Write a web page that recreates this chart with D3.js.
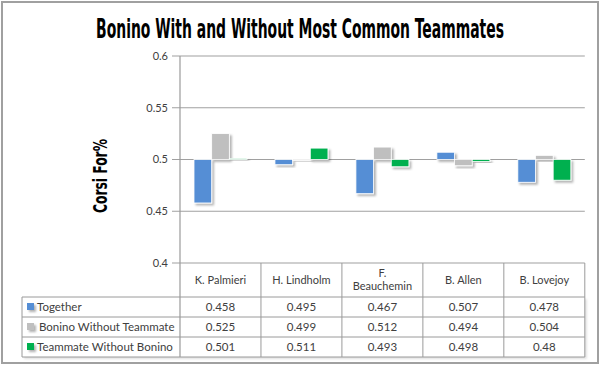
<!DOCTYPE html>
<html>
<head>
<meta charset="utf-8">
<script src="https://cdn.jsdelivr.net/npm/d3@7"></script>
<style>
  body { margin: 0; background: #fff; }
  text { font-family: Lato, "Liberation Sans", sans-serif; fill: #404040; }
  .cond { font-family: "Liberation Sans Narrow", "DejaVu Sans Condensed", sans-serif; font-weight: bold; fill: #000; }
</style>
</head>
<body>
<div id="body"></div>
<script>
var categories = ["K. Palmieri", "H. Lindholm", "F. Beauchemin", "B. Allen", "B. Lovejoy"];
var seriesNames = ["Together", "Bonino Without Teammate", "Teammate Without Bonino"];
var together = [0.458, 0.495, 0.467, 0.507, 0.478];
var withoutTeammate = [0.525, 0.499, 0.512, 0.494, 0.504];
var teammateWithout = [0.501, 0.511, 0.493, 0.498, 0.48];
var valueLabels = [
  ["0.458", "0.495", "0.467", "0.507", "0.478"],
  ["0.525", "0.499", "0.512", "0.494", "0.504"],
  ["0.501", "0.511", "0.493", "0.498", "0.48"]
];
var yTicks = [0.4, 0.45, 0.5, 0.55, 0.6];
var colors = ["#558ed5", "#bfbfbf", "#00b050"];

var series = [together, withoutTeammate, teammateWithout];
var width = 600, height = 366;
var plotLeft = 180, plotRight = 584.8, plotTop = 56, plotBottom = 263;
var tableLeft = 22, rowH = 20, headerBottom = 297;

var svg = d3.select("#body")
  .append("svg")
  .attr("width", width)
  .attr("height", height);

var defs = svg.append("defs");
function addShadow(id, opacity) {
  defs.append("filter")
    .attr("id", id)
    .attr("x", "-50%").attr("y", "-50%")
    .attr("width", "200%").attr("height", "200%")
    .append("feDropShadow")
    .attr("dx", 2).attr("dy", 2)
    .attr("stdDeviation", 1)
    .attr("flood-color", "#000")
    .attr("flood-opacity", opacity);
}
addShadow("shadow", 0.3);
addShadow("tshadow", 0.12);

// outer frame
svg.append("rect")
  .attr("x", 2).attr("y", 2)
  .attr("width", 596).attr("height", 361)
  .attr("fill", "none")
  .attr("stroke", "#a0a0a0")
  .attr("stroke-width", 2);

// squeeze condensed text to the width seen in the picture
function fitText(sel, w) {
  var natural = sel.node().getComputedTextLength();
  var base = sel.attr("transform") || "";
  sel.attr("transform", base + " scale(" + (w / natural) + ",1)");
}

var title = svg.append("text")
  .attr("class", "cond")
  .attr("text-anchor", "middle")
  .attr("font-size", 27)
  .attr("transform", "translate(300,38)")
  .text("Bonino With and Without Most Common Teammates");
fitText(title, 408);

var yLabel = svg.append("text")
  .attr("class", "cond")
  .attr("transform", "translate(107,176) rotate(-90)")
  .attr("text-anchor", "middle")
  .attr("font-size", 20)
  .text("Corsi For%");
fitText(yLabel, 74);

var x = d3.scaleBand()
  .domain(categories)
  .range([plotLeft, plotRight]);

var x1 = d3.scaleBand()
  .domain(d3.range(series.length))
  .range([14, 67]);

var y = d3.scaleLinear()
  .domain([0.4, 0.6])
  .range([plotBottom, plotTop]);

// gridlines and ticks
var grid = svg.append("g");
grid.selectAll("line")
  .data(yTicks)
  .enter()
  .append("line")
  .attr("x1", plotLeft - 8)
  .attr("x2", plotRight)
  .attr("y1", function(d) { return y(d); })
  .attr("y2", function(d) { return y(d); })
  .attr("stroke", "#a0a0a0")
  .attr("stroke-width", 1.2);

grid.selectAll("text")
  .data(yTicks)
  .enter()
  .append("text")
  .attr("x", plotLeft - 12)
  .attr("y", function(d) { return y(d); })
  .attr("dy", "0.35em")
  .attr("text-anchor", "end")
  .attr("font-size", 11)
  .text(function(d) { return d3.format("")(d); });

// bars from the 0.5 crossing
var groups = svg.append("g")
  .selectAll("g")
  .data(series)
  .enter()
  .append("g")
  .attr("fill", function(d, i) { return colors[i]; });

groups.selectAll("rect")
  .data(function(d, i) { return d.map(function(v, j) { return { s: i, c: categories[j], v: v }; }); })
  .enter()
  .append("rect")
  .attr("x", function(d) { return x(d.c) + x1(d.s); })
  .attr("width", x1.bandwidth())
  .attr("y", function(d) { return Math.min(y(d.v), y(0.5)); })
  .attr("height", function(d) { return Math.max(Math.abs(y(d.v) - y(0.5)), 1); })
  .attr("stroke", "#fff")
  .attr("stroke-width", 0.8)
  .attr("filter", "url(#shadow)");

// data table
var table = svg.append("g");
var colEdges = categories.map(function(c) { return x(c); }).concat([plotRight]);

table.append("rect")
  .attr("x", tableLeft)
  .attr("y", headerBottom)
  .attr("width", plotRight - tableLeft)
  .attr("height", rowH * 3)
  .attr("fill", "#fff")
  .attr("filter", "url(#tshadow)");

table.selectAll("line.h")
  .data(d3.range(4))
  .enter()
  .append("line")
  .attr("x1", tableLeft)
  .attr("x2", plotRight)
  .attr("y1", function(d) { return headerBottom + d * rowH; })
  .attr("y2", function(d) { return headerBottom + d * rowH; })
  .attr("stroke", "#9a9a9a");

table.selectAll("line.v")
  .data(colEdges)
  .enter()
  .append("line")
  .attr("x1", function(d) { return d; })
  .attr("x2", function(d) { return d; })
  .attr("y1", function(d, i) { return i == 0 ? plotTop : plotBottom; })
  .attr("y2", headerBottom + rowH * 3)
  .attr("stroke", "#9a9a9a")
  .attr("stroke-width", function(d, i) { return i == 0 ? 1.2 : 1; });

table.append("line")
  .attr("x1", tableLeft).attr("x2", tableLeft)
  .attr("y1", headerBottom).attr("y2", headerBottom + rowH * 3)
  .attr("stroke", "#9a9a9a");

var headers = table.selectAll("text.head")
  .data(categories)
  .enter()
  .append("text")
  .attr("text-anchor", "middle")
  .attr("font-size", 11)
  .attr("x", function(d) { return x(d) + x.bandwidth() / 2; })
  .attr("y", (plotBottom + headerBottom) / 2);

headers.each(function(d) {
  var parts = d == "F. Beauchemin" ? ["F.", "Beauchemin"] : [d];
  var t = d3.select(this);
  parts.forEach(function(p, k) {
    t.append("tspan")
      .attr("x", x(d) + x.bandwidth() / 2)
      .attr("dy", k == 0 ? (parts.length > 1 ? "-0.3em" : "0.35em") : "1.2em")
      .text(p);
  });
});

var rows = table.selectAll("g.row")
  .data(seriesNames)
  .enter()
  .append("g")
  .attr("transform", function(d, i) { return "translate(0," + (headerBottom + i * rowH + rowH / 2) + ")"; });

rows.append("rect")
  .attr("x", 27)
  .attr("y", -4)
  .attr("width", 7)
  .attr("height", 7)
  .attr("fill", function(d, i) { return colors[i]; })
  .attr("filter", "url(#shadow)");

rows.append("text")
  .attr("x", function(d, i) { return i == 1 ? 39 : 37; })
  .attr("dy", "0.35em")
  .attr("font-size", 11.5)
  .text(function(d) { return d; });

rows.selectAll("text.val")
  .data(function(d, i) { return valueLabels[i]; })
  .enter()
  .append("text")
  .attr("text-anchor", "middle")
  .attr("font-size", 11.5)
  .attr("x", function(d, j) { return x(categories[j]) + x.bandwidth() / 2; })
  .attr("dy", "0.35em")
  .text(function(d) { return d; });
</script>
</body>
</html>
